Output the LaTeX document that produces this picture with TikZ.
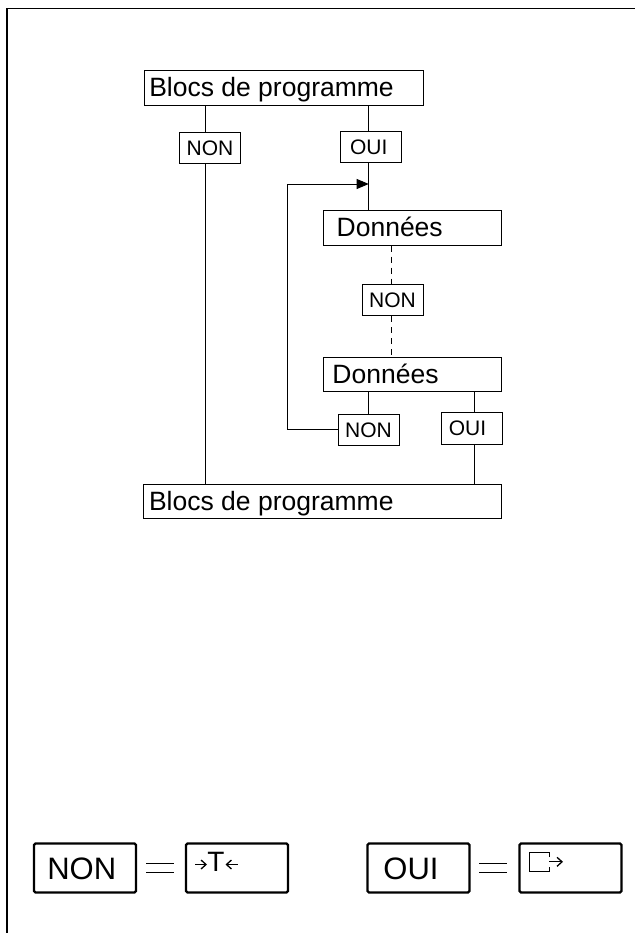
\documentclass[tikz,border=0pt]{standalone}
\usepackage{fontspec}
\setmainfont{Liberation Sans}
\usetikzlibrary{arrows.meta}
\tikzset{
  x=1pt,y=-1pt,
  wire/.style={draw=black,line width=0.9pt},
  framewire/.style={draw=black,line width=1.2pt},
  dashwire/.style={draw=black,line width=0.9pt,dash pattern=on 6pt off 5pt},
  loopwire/.style={draw=black,line width=0.9pt,-{Triangle[length=12pt,width=10pt]}},
  blockbox/.style={draw=black,line width=0.9pt,inner sep=0pt,minimum height=34.5pt,text height=19pt,text depth=1.6pt,font=\fontsize{26.5}{27}\selectfont},
  tag/.style={draw=black,line width=0.9pt,inner sep=0pt,minimum width=61pt,minimum height=31.5pt,text height=15pt,text depth=0pt,font=\fontsize{21}{21}\selectfont},
  keybox/.style={draw=black,line width=2.2pt,rounded corners=1.5pt,inner sep=0pt,minimum width=102pt,minimum height=49pt,text height=23pt,text depth=0pt,font=\fontsize{31}{31}\selectfont},
  eqline/.style={draw=black,line width=1pt},
  glyph/.style={draw=black,line width=1pt},
  tinyarrow/.style={-{Straight Barb[length=5pt,width=9pt,line width=1.3pt]},draw=black,line width=1.2pt},
}
\begin{document}
\begin{tikzpicture}
\useasboundingbox (0,0) rectangle (635,933);
% frame
\coordinate (fa) at (7,933);
\coordinate (fb) at (7,8.7);
\coordinate (fc) at (635,8.7);
\draw[framewire] (fa) -- (fb) -- (fc);
% main boxes
\node[blockbox,minimum width=279pt] (top) at (283.5,88) {Blocs de programme\hspace*{24pt}};
\node[blockbox,minimum width=178pt] (d1) at (412.7,228) {Données\hspace*{46pt}};
\node[blockbox,minimum width=178pt] (d2) at (412.7,374.3) {Données\hspace*{54.4pt}};
\node[blockbox,minimum width=358pt] (bot) at (322.8,501.6) {Blocs de programme\hspace*{103pt}};
% tags
\node[tag] (n1) at (210,148) {NON};
\node[tag] (o1) at (371.2,147.2) {OUI\hspace*{5pt}};
\node[tag] (n2) at (392.5,300) {NON};
\node[tag] (n3) at (368.5,429.7) {NON};
\node[tag] (o2) at (471.5,428.3) {OUI\hspace*{8pt}};
% routing columns
\coordinate (xa) at (205.3,0);
\coordinate (xb) at (368.7,0);
\coordinate (xc) at (391,0);
\coordinate (xd) at (474.3,0);
\coordinate (xe) at (287,0);
\coordinate (ya) at (0,184);
% connectors
\draw[wire] (xa |- top.south) -- (xa |- n1.north);
\draw[wire] (xa |- n1.south) -- (xa |- bot.north);
\draw[wire] (xb |- top.south) -- (xb |- o1.north);
\draw[wire] (xb |- o1.south) -- (xb |- d1.north);
\draw[dashwire] (xc |- d1.south) -- (xc |- n2.north);
\draw[dashwire] (xc |- n2.south) -- (xc |- d2.north);
\draw[wire] (xb |- d2.south) -- (xb |- n3.north);
\draw[wire] (xd |- d2.south) -- (xd |- o2.north);
\draw[wire] (xd |- o2.south) -- (xd |- bot.north);
\draw[loopwire] (n3.west) -- (xe |- n3.west) -- (xe |- ya) -- (xb |- ya);
% legend
\node[keybox] (kn) at (85,868) {NON\hspace*{6.5pt}};
\node[keybox] (kt) at (237,868) {};
\node[keybox] (ko) at (418.5,868) {OUI\hspace*{15pt}};
\node[keybox] (kk) at (570.5,868) {};
\coordinate (e1a) at (146,863); \coordinate (e1b) at (174,863);
\coordinate (e2a) at (146,872); \coordinate (e2b) at (174,872);
\draw[eqline] (e1a) -- (e1b);
\draw[eqline] (e2a) -- (e2b);
\coordinate (e3a) at (479,863); \coordinate (e3b) at (507,863);
\coordinate (e4a) at (479,872); \coordinate (e4b) at (507,872);
\draw[eqline] (e3a) -- (e3b);
\draw[eqline] (e4a) -- (e4b);
% glyphs
\node[font=\fontsize{28}{28}\selectfont,inner sep=0pt,text height=20pt,text depth=0pt] (tt) at (216,861) {T};
\coordinate (a1) at (195,864.5); \coordinate (a2) at (207,864.5);
\coordinate (a3) at (237.5,864.5); \coordinate (a4) at (225.5,864.5);
\draw[tinyarrow] (a1) -- (a2);
\draw[tinyarrow] (a3) -- (a4);
\coordinate (g1) at (549,857); \coordinate (g2) at (549,852);
\coordinate (g3) at (529,852); \coordinate (g4) at (529,871.5);
\coordinate (g5) at (549,871.5); \coordinate (g6) at (549,867);
\draw[glyph] (g1) -- (g2) -- (g3) -- (g4) -- (g5) -- (g6);
\coordinate (g7) at (549,861.8); \coordinate (g8) at (563,861.8);
\draw[tinyarrow] (g7) -- (g8);
\end{tikzpicture}
\end{document}
